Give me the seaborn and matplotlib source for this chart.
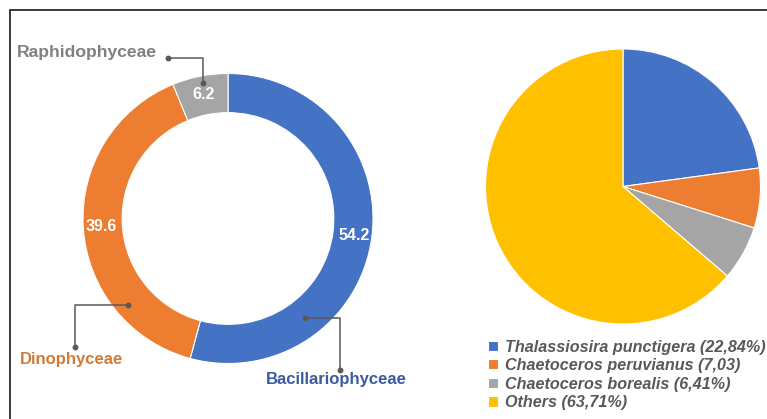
import matplotlib
matplotlib.use("Agg")
import matplotlib.pyplot as plt
import matplotlib.patches as mpatches
import seaborn as sns

# === Data ===
class_names = ["Bacillariophyceae", "Dinophyceae", "Raphidophyceae"]
class_values = [54.2, 39.6, 6.2]

species_names = ["Thalassiosira punctigera", "Chaetoceros peruvianus",
                 "Chaetoceros borealis", "Others"]
species_values = [22.84, 7.03, 6.41, 63.71]
species_legend = ["Thalassiosira punctigera (22,84%)",
                  "Chaetoceros peruvianus (7,03)",
                  "Chaetoceros borealis (6,41%)",
                  "Others (63,71%)"]

colors = ["#4472C4", "#ED7D31", "#A5A5A5", "#FFC000"]
label_colors = {"Bacillariophyceae": "#3A5BA0",
                "Dinophyceae": "#D47A35",
                "Raphidophyceae": "#808080"}

sns.set_theme(style="white")
plt.rcParams["font.family"] = ["Liberation Sans", "DejaVu Sans"]

W, H = 767, 419
fig = plt.figure(figsize=(W / 100, H / 100), dpi=100)

# outer frame (only top and left visible in the reference crop)
fig.add_artist(mpatches.Rectangle((10 / W, -0.2), 1.2, 1.2 - 10 / H,
                                  transform=fig.transFigure, fill=False,
                                  edgecolor="#2b2b2b", linewidth=1.3))

# === Donut ===
cx, cy, r = 228, 218.5, 145
ax1 = fig.add_axes([(cx - r) / W, (H - cy - r) / H, 2 * r / W, 2 * r / H])
ax1.pie(class_values, colors=colors[:3], startangle=90, counterclock=False,
        radius=1, wedgeprops=dict(width=0.27, edgecolor="white", linewidth=0.8),
        autopct=lambda p: f"{p:.1f}", pctdistance=0.875,
        textprops=dict(color="white", fontsize=11.5, fontweight="bold"))
ax1.set_xlim(-1, 1)
ax1.set_ylim(-1, 1)
ax1.axis("off")

# leader lines and category labels (donut data units)
leaders = {
    "Raphidophyceae": [(-0.414, 1.107), (-0.172, 1.107), (-0.172, 0.934)],
    "Dinophyceae": [(-1.055, -0.886), (-1.055, -0.597), (-0.690, -0.597)],
    "Bacillariophyceae": [(0.531, -0.686), (0.772, -0.686), (0.772, -1.045)],
}
label_pos = {
    "Raphidophyceae": (-0.490, 1.148, "right"),
    "Dinophyceae": (-1.076, -0.969, "center"),
    "Bacillariophyceae": (0.745, -1.107, "center"),
}
label_size = {"Raphidophyceae": 12.6, "Dinophyceae": 12, "Bacillariophyceae": 12}
for nm in class_names:
    xs = [p[0] for p in leaders[nm]]
    ys = [p[1] for p in leaders[nm]]
    ax1.plot(xs, ys, color="#595959", lw=1.1, clip_on=False)
    ax1.plot([xs[0], xs[-1]], [ys[0], ys[-1]], "o", color="#595959",
             ms=3.2, clip_on=False)
    x, y, ha = label_pos[nm]
    ax1.text(x, y, nm, ha=ha, va="center", fontsize=label_size[nm],
             fontweight="bold", color=label_colors[nm], clip_on=False)

# === Pie ===
px, py, pr = 623, 186.5, 137.5
ax2 = fig.add_axes([(px - pr) / W, (H - py - pr) / H, 2 * pr / W, 2 * pr / H])
wedges, _ = ax2.pie(species_values, colors=colors, startangle=90,
                    counterclock=False, radius=1,
                    wedgeprops=dict(edgecolor="white", linewidth=0.8))
ax2.set_xlim(-1, 1)
ax2.set_ylim(-1, 1)
ax2.axis("off")

fig.legend(wedges, species_legend, loc="upper left",
           bbox_to_anchor=(488 / W, 1 - 339.5 / H), frameon=False,
           borderpad=0, borderaxespad=0, handlelength=0.6, handleheight=0.6,
           handletextpad=0.45, labelspacing=0.22,
           prop=dict(family="Liberation Sans", size=11.6, weight="bold",
                     style="italic"),
           labelcolor="#595959")

fig.savefig("out.png", dpi=100)
plt.close(fig)
